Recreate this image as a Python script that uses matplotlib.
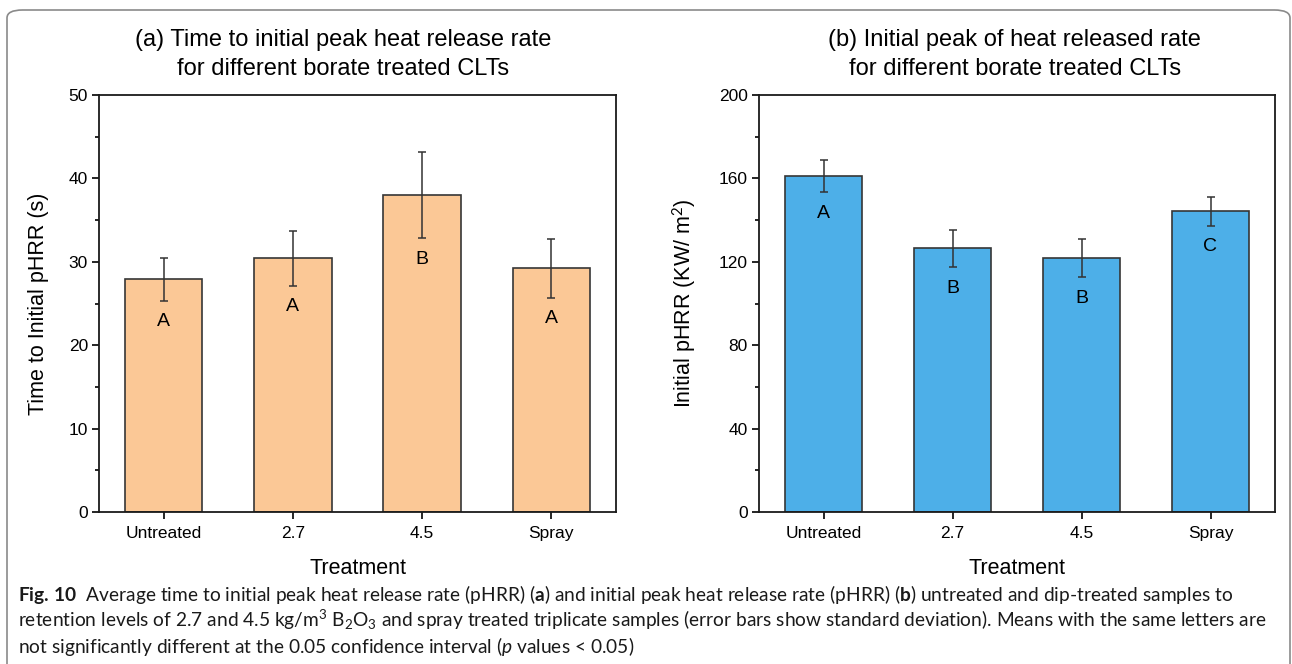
import matplotlib
matplotlib.use("Agg")
import matplotlib.pyplot as plt
from matplotlib.ticker import MultipleLocator
from matplotlib.patches import FancyBboxPatch
import numpy as np

# ---------------- data ----------------
categories = ["Untreated", "2.7", "4.5", "Spray"]

time_mean = [27.9, 30.4, 38.0, 29.2]
time_sd = [2.6, 3.3, 5.2, 3.5]
time_letters = ["A", "A", "B", "A"]

phrr_mean = [161.0, 126.4, 121.6, 144.2]
phrr_sd = [7.7, 8.9, 9.1, 6.8]
phrr_letters = ["A", "B", "B", "C"]

title_a = "(a) Time to initial peak heat release rate\nfor different borate treated CLTs"
title_b = "(b) Initial peak of heat released rate\nfor different borate treated CLTs"
ylabel_a = "Time to Initial pHRR (s)"
ylabel_b = "Initial pHRR (KW/ m$^2$)"
xlabel = "Treatment"

caption_lines = [
    r"$\mathbf{Fig.\,10}$  Average time to initial peak heat release rate (pHRR) ($\mathbf{a}$) and initial peak heat release rate (pHRR) ($\mathbf{b}$) untreated and dip-treated samples to",
    r"retention levels of 2.7 and 4.5 kg/m$^{3}$ B$_{2}$O$_{3}$ and spray treated triplicate samples (error bars show standard deviation). Means with the same letters are",
    r"not significantly different at the 0.05 confidence interval ($\mathit{p}$ values < 0.05)",
]

# ---------------- style ----------------
plt.rcParams["font.family"] = ["Liberation Sans", "DejaVu Sans"]
plt.rcParams["mathtext.fontset"] = "custom"
plt.rcParams["mathtext.rm"] = "Liberation Sans"
plt.rcParams["mathtext.it"] = "Liberation Sans:italic"
plt.rcParams["mathtext.bf"] = "Liberation Sans:bold"

W, H = 1292, 664
fig = plt.figure(figsize=(W / 100, H / 100), dpi=100)


def px_axes(x0, x1, y0, y1):
    return fig.add_axes([x0 / W, 1 - y1 / H, (x1 - x0) / W, (y1 - y0) / H])


ax_a = px_axes(99, 616, 95, 512)
ax_b = px_axes(759, 1275, 95, 512)

orange = "#FBC896"
blue = "#4DAFE8"
edge = "#363636"


def draw(ax, means, sds, letters, color, ymax, major, minor, title, title_x, ylabel):
    x = np.arange(len(categories))
    ax.bar(x, means, width=0.6, color=color, edgecolor=edge, linewidth=1.2, zorder=2)
    ax.errorbar(x, means, yerr=sds, fmt="none", ecolor="#333333", elinewidth=1.1,
                capsize=3.2, capthick=1.1, zorder=3)
    for xi, m, s, lab in zip(x, means, sds, letters):
        ax.annotate(lab, xy=(xi, m - s), xytext=(0, -9), textcoords="offset points",
                    ha="center", va="top", fontsize=14, zorder=4)
    ax.set_xlim(-0.5, 3.5)
    ax.set_ylim(0, ymax)
    ax.set_xticks(x)
    ax.set_xticklabels(categories, fontsize=12.5)
    ax.yaxis.set_major_locator(MultipleLocator(major))
    ax.yaxis.set_minor_locator(MultipleLocator(minor))
    ax.tick_params(axis="y", which="major", direction="out", length=5, width=1.2,
                   labelsize=12.5, pad=3)
    ax.tick_params(axis="y", which="minor", direction="out", length=3, width=1.2)
    ax.tick_params(axis="x", which="major", direction="out", length=5, width=1.2, pad=5)
    for sp in ax.spines.values():
        sp.set_linewidth(1.3)
        sp.set_color("#1a1a1a")
    ax.set_xlabel(xlabel, fontsize=15.5, labelpad=12)
    ax.set_ylabel(ylabel, fontsize=15.5, labelpad=14)
    ax.text(title_x, 1.035, title, transform=ax.transAxes, ha="center", va="bottom",
            fontsize=17, linespacing=1.45)


draw(ax_a, time_mean, time_sd, time_letters, orange, 50, 10, 5, title_a, 0.472, ylabel_a)
draw(ax_b, phrr_mean, phrr_sd, phrr_letters, blue, 200, 40, 20, title_b, 0.496, ylabel_b)

# ---------------- frame ----------------
frame = FancyBboxPatch((7 / W, -0.05), (1290 - 7) / W, (1.05 - 10 / H),
                       boxstyle="round,pad=0,rounding_size=0.012",
                       transform=fig.transFigure, facecolor="none",
                       edgecolor="#8a8a8a", linewidth=1.2, zorder=0)
fig.patches.append(frame)

# ---------------- caption ----------------
cap_font = ["Lato", "DejaVu Sans"]
plt.rcParams["mathtext.rm"] = "Lato"
plt.rcParams["mathtext.it"] = "Lato:italic"
plt.rcParams["mathtext.bf"] = "Lato:bold"

cap_y = [594, 620, 646]
texts = []
for line, yy in zip(caption_lines, cap_y):
    t = fig.text(18 / W, 1 - yy / H, line, ha="left", va="center",
                 fontsize=12, family=cap_font, color="#1a1a1a")
    texts.append(t)

renderer = fig.canvas.get_renderer()
w2 = texts[1].get_window_extent(renderer).width
scale = (1268 - 18) / w2
for t in texts:
    t.set_fontsize(12 * scale)

fig.savefig("out.png", dpi=100)
